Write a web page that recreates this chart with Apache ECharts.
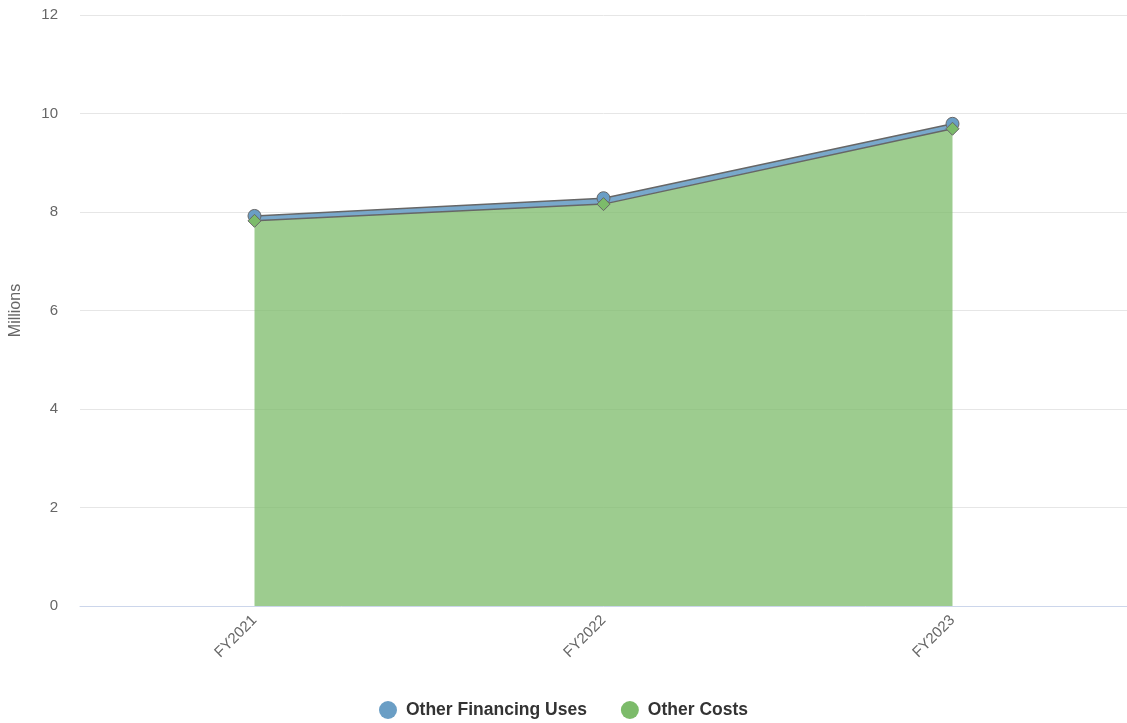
<!DOCTYPE html>
<html>
<head>
<meta charset="utf-8">
<script src="https://cdn.jsdelivr.net/npm/echarts@6/dist/echarts.min.js"></script>
<style>
  html, body { margin: 0; padding: 0; background: #fff; }
  #chart { width: 1127px; height: 723px; }
</style>
</head>
<body>
<div id="chart"></div>
<script>
  // values in millions
  let years = ['FY2021', 'FY2022', 'FY2023']
  let otherCosts = [7.82, 8.16, 9.69]
  let otherFinancingUses = [0.10, 0.12, 0.10]
  let yTicks = [0, 2, 4, 6, 8, 10, 12]

  let chart = echarts.init(document.getElementById('chart'))
  let font = 'Helvetica, Arial, "Liberation Sans", sans-serif'

  let option = {
    animation: false,
    textStyle: { fontFamily: font },
    grid: { left: 79, top: 15, right: -3, bottom: 117, containLabel: false },
    legend: {
      data: [
        { name: 'Other Financing Uses', icon: 'circle' },
        { name: 'Other Costs', icon: 'circle' }
      ],
      top: 696,
      left: 'center',
      itemWidth: 18,
      itemHeight: 18,
      itemGap: 34,
      itemStyle: { borderWidth: 0 },
      textStyle: { fontSize: 17.5, fontWeight: 'bold', color: '#333', fontFamily: font, padding: [0, 0, 0, 4] }
    },
    xAxis: {
      type: 'category',
      data: years,
      boundaryGap: true,
      axisLine: { lineStyle: { color: '#ccd6eb' } },
      axisTick: { show: false },
      axisLabel: { rotate: 45, color: '#666', fontSize: 15, margin: 12 }
    },
    yAxis: {
      type: 'value',
      min: yTicks[0],
      max: yTicks[yTicks.length - 1],
      interval: 2,
      name: 'Millions',
      nameLocation: 'middle',
      nameGap: 56,
      nameTextStyle: { color: '#666', fontSize: 16 },
      axisLabel: { color: '#666', fontSize: 15, margin: 22 },
      splitLine: { lineStyle: { color: '#e6e6e6' } }
    },
    series: [
      {
        name: 'Other Costs',
        type: 'line',
        stack: 'total',
        data: otherCosts,
        symbol: 'diamond',
        symbolSize: 13,
        itemStyle: { color: '#7cbb6a', borderColor: '#666', borderWidth: 1 },
        lineStyle: { color: '#666', width: 1.5 },
        areaStyle: { color: '#7cbb6a', opacity: 0.75 },
        z: 3
      },
      {
        name: 'Other Financing Uses',
        type: 'line',
        stack: 'total',
        data: otherFinancingUses,
        symbol: 'circle',
        symbolSize: 13,
        itemStyle: { color: '#6a9ec5', borderColor: '#666', borderWidth: 1 },
        lineStyle: { color: '#666', width: 1.5 },
        areaStyle: { color: '#6a9ec5', opacity: 0.9 },
        z: 2
      }
    ]
  }
  chart.setOption(option)
</script>
</body>
</html>
